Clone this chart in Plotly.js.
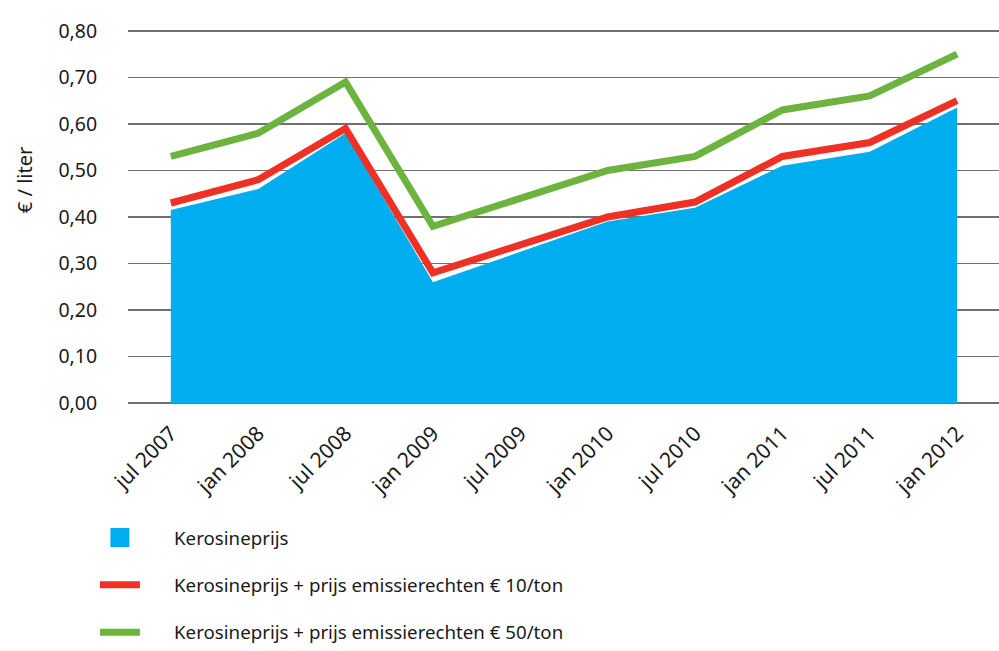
<!DOCTYPE html>
<html>
<head>
<meta charset="utf-8">
<script src="https://cdn.plot.ly/plotly-3.0.1.min.js"></script>
<style>
  html, body { margin: 0; padding: 0; background: #fff; }
  #chart { width: 999px; height: 651px; }
</style>
</head>
<body>
<div id="chart"></div>
<script>
// Kerosine price vs. price incl. emission rights (€ / liter)
var periods = ['jul 2007', 'jan 2008', 'jul 2008', 'jan 2009', 'jul 2009',
               'jan 2010', 'jul 2010', 'jan 2011', 'jul 2011', 'jan 2012'];
var kerosine = [0.415, 0.46, 0.58, 0.26, 0.325, 0.39, 0.42, 0.51, 0.54, 0.635];
var plus10   = [0.43, 0.48, 0.59, 0.28, 0.34, 0.40, 0.432, 0.53, 0.56, 0.65];
var plus50   = [0.53, 0.58, 0.69, 0.38, 0.44, 0.50, 0.53, 0.63, 0.66, 0.75];

var BLUE = '#00ADEE', RED = '#EE3124', GREEN = '#6DB33F', INK = '#1a1a1a';
var FONT = 'Noto Sans, Open Sans, sans-serif';
var PAD = '\u00a0\u00a0\u00a0\u00a0\u00a0\u00a0';   // gap between swatch and label

var traces = [
    {
        type: 'scatter', mode: 'none', x: periods, y: kerosine,
        fill: 'tozeroy', fillcolor: BLUE, showlegend: false, hoverinfo: 'skip'
    },
    {
        // legend swatch for the area
        type: 'scatter', mode: 'markers', x: [null], y: [null],
        name: PAD + 'Kerosineprijs', legendgroup: 'a',
        marker: { symbol: 'square', size: 16, color: BLUE, line: { color: BLUE, width: 3 } }
    },
    {
        type: 'scatter', mode: 'lines', x: periods, y: plus10,
        name: PAD + 'Kerosineprijs + prijs emissierechten € 10/ton', legendgroup: 'b',
        line: { color: RED, width: 7 }
    },
    {
        type: 'scatter', mode: 'lines', x: periods, y: plus50,
        name: PAD + 'Kerosineprijs + prijs emissierechten € 50/ton', legendgroup: 'c',
        line: { color: GREEN, width: 7 }
    }
];

var layout = {
    width: 999, height: 651,
    paper_bgcolor: '#fff', plot_bgcolor: '#fff',
    separators: ',.',
    font: { family: FONT, color: INK, size: 19 },
    margin: { l: 128, r: 0, t: 28, b: 246 },
    xaxis: {
        type: 'category', range: [-0.49, 9.48],
        showgrid: false, zeroline: false, showline: false,
        ticks: 'outside', ticklen: 7, tickcolor: 'rgba(0,0,0,0)',
        tickangle: -45, tickfont: { family: FONT, size: 21, color: INK }
    },
    yaxis: {
        range: [-0.004, 0.806], tickvals: [0, 0.1, 0.2, 0.3, 0.4, 0.5, 0.6, 0.7, 0.8],
        tickformat: '.2f',
        showgrid: true, gridcolor: '#707070', gridwidth: 1.5,
        zeroline: false, showline: false,
        ticks: 'outside', ticklen: 26, tickcolor: 'rgba(0,0,0,0)',
        tickfont: { family: FONT, size: 19.5, color: INK }
    },
    annotations: [{
        xref: 'paper', yref: 'paper', x: -0.118, y: 0.597,
        xanchor: 'center', yanchor: 'middle',
        text: '€ / liter', textangle: -90, showarrow: false,
        font: { family: FONT, size: 20, color: INK }
    }],
    showlegend: true,
    legend: {
        x: -0.038, xanchor: 'left', y: -0.302, yanchor: 'top',
        orientation: 'v', traceorder: 'grouped', tracegroupgap: 20,
        itemwidth: 40, bgcolor: 'rgba(0,0,0,0)',
        font: { family: FONT, size: 18.7, color: INK }
    }
};

Plotly.newPlot('chart', traces, layout, { displayModeBar: false, staticPlot: true });
</script>
</body>
</html>
